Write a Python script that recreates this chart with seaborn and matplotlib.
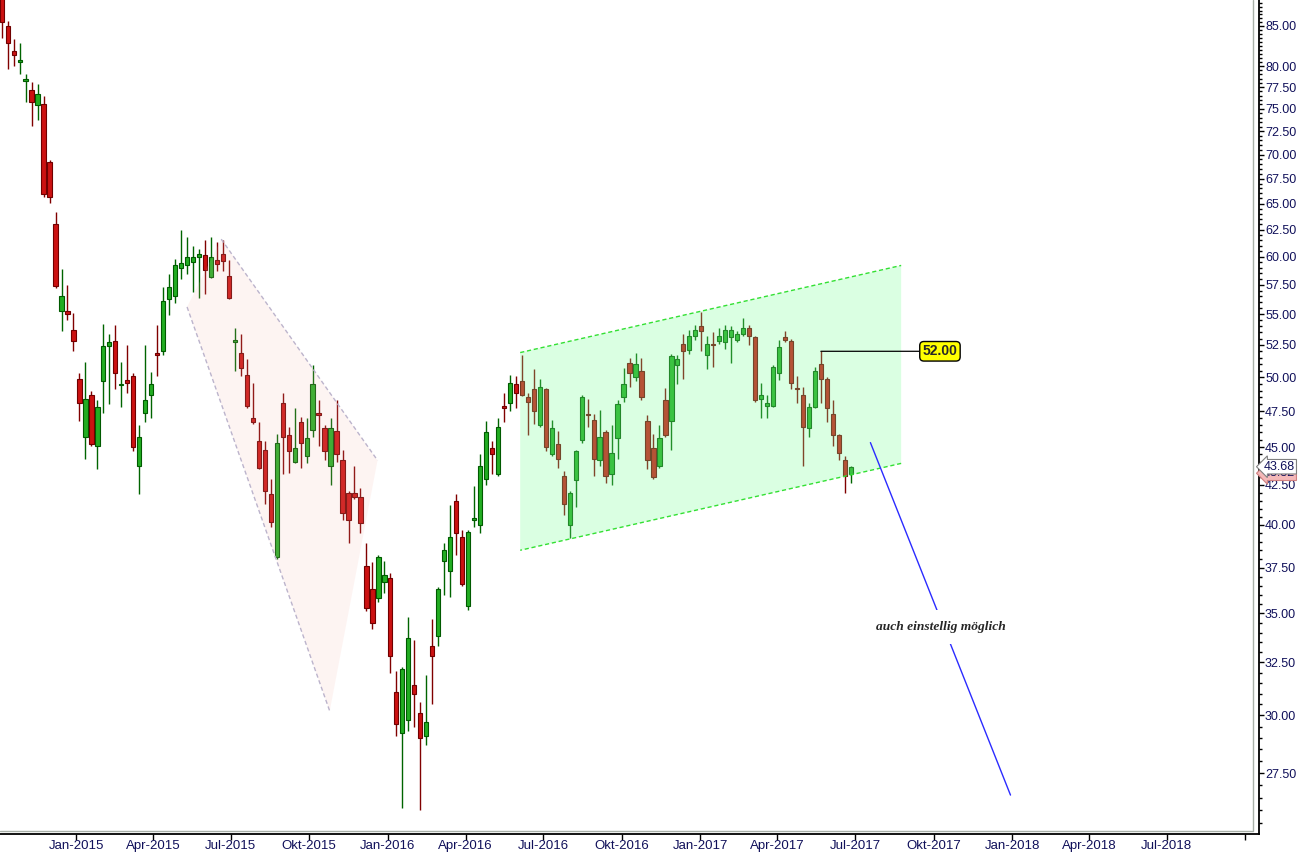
import pandas as pd
import numpy as np
import matplotlib
matplotlib.use('Agg')
import matplotlib.pyplot as plt
import matplotlib.ticker as mticker
import matplotlib.transforms as mtransforms
import seaborn as sns

# weekly candles, first week starting 2014-10-06
first_week = '2014-10-06'
open_ = [89.0, 85.0, 81.9, 80.5, 78.2, 77.2, 75.4, 75.6, 69.2, 63.0,
         55.3, 55.3, 53.7, 49.9, 45.7, 48.7, 45.1, 49.7, 52.4, 52.8,
         49.4, 49.8, 50.1, 43.7, 47.4, 48.7, 51.9, 52.0, 56.3, 56.5,
         59.0, 59.2, 59.5, 60.0, 60.1, 58.2, 59.7, 60.2, 58.3, 52.7,
         51.9, 50.2, 47.0, 45.4, 44.8, 41.9, 38.1, 48.1, 45.8, 44.0,
         46.7, 44.4, 46.2, 47.4, 46.3, 43.7, 46.1, 44.1, 42.0, 42.0,
         41.7, 37.6, 36.3, 35.8, 36.7, 36.9, 31.1, 29.2, 29.8, 31.4,
         30.1, 29.1, 33.3, 33.8, 37.9, 37.3, 41.5, 39.3, 35.4, 40.3,
         40.0, 42.9, 44.9, 43.2, 47.9, 48.1, 49.5, 49.7, 48.5, 49.1,
         46.5, 49.1, 44.5, 45.2, 43.1, 40.0, 42.8, 45.5, 47.3, 46.9,
         44.1, 46.0, 43.2, 45.6, 48.5, 51.1, 50.0, 50.5, 46.8, 44.9,
         43.7, 48.3, 46.8, 50.9, 52.6, 52.1, 53.2, 54.0, 51.7, 52.6,
         52.8, 52.7, 53.1, 52.9, 53.4, 53.9, 53.1, 48.4, 47.9, 47.9,
         50.3, 53.1, 52.8, 49.2, 48.7, 46.3, 47.8, 51.0, 49.9, 47.3,
         45.8, 44.1, 43.2]
high = [90.0, 85.6, 83.3, 82.9, 79.0, 78.1, 77.9, 76.5, 69.4, 64.2,
        58.9, 57.5, 55.1, 50.3, 51.2, 49.0, 48.3, 54.2, 53.4, 54.1,
        51.2, 52.5, 50.3, 46.5, 52.5, 50.4, 54.1, 57.3, 58.4, 59.8,
        62.5, 61.8, 61.0, 60.7, 61.5, 61.8, 61.3, 61.5, 59.7, 53.9,
        53.4, 51.4, 49.6, 46.7, 45.4, 42.9, 45.9, 48.8, 46.4, 47.7,
        47.1, 47.0, 50.9, 48.3, 46.5, 47.0, 48.3, 44.8, 42.1, 43.7,
        42.3, 38.9, 37.8, 38.2, 37.9, 37.2, 32.1, 32.3, 34.8, 33.6,
        30.6, 31.9, 34.7, 36.4, 38.9, 41.2, 41.9, 39.7, 39.7, 42.4,
        44.5, 46.8, 45.4, 47.0, 48.8, 50.2, 50.1, 51.7, 48.8, 50.6,
        49.9, 49.2, 46.9, 46.1, 43.4, 42.1, 44.8, 48.7, 48.4, 47.3,
        47.6, 46.2, 46.5, 48.3, 50.7, 51.5, 51.9, 51.5, 47.2, 45.9,
        46.5, 49.2, 51.8, 51.7, 53.4, 53.7, 54.1, 55.2, 53.2, 53.5,
        53.9, 54.1, 54.0, 53.6, 54.7, 54.1, 53.2, 49.6, 48.7, 50.9,
        52.9, 53.6, 53.0, 50.1, 49.3, 48.1, 50.8, 52.0, 50.0, 48.3,
        45.9, 44.4, 43.7]
low = [83.5, 79.7, 80.0, 79.0, 75.8, 73.1, 73.7, 65.6, 65.1, 57.2,
       53.6, 54.5, 52.0, 46.8, 44.2, 45.1, 43.5, 47.4, 48.0, 49.1,
       47.8, 48.8, 44.7, 41.9, 46.7, 47.0, 50.1, 51.7, 54.9, 55.9,
       58.0, 58.4, 56.9, 56.4, 56.7, 58.1, 58.7, 58.7, 56.3, 50.5,
       50.1, 47.7, 46.6, 43.5, 41.3, 39.9, 38.0, 43.2, 43.3, 43.9,
       43.6, 43.9, 45.7, 45.1, 44.1, 42.5, 44.0, 40.3, 38.9, 41.6,
       39.5, 35.1, 34.2, 35.6, 36.1, 32.0, 29.1, 26.1, 29.3, 29.5,
       26.0, 28.7, 30.5, 33.3, 36.0, 35.9, 38.2, 36.5, 35.2, 39.9,
       39.5, 42.5, 43.2, 43.1, 46.7, 47.5, 47.7, 48.6, 45.8, 46.6,
       46.4, 44.7, 44.4, 43.6, 40.6, 39.2, 41.1, 45.3, 46.4, 43.1,
       43.7, 42.6, 42.5, 44.2, 48.2, 49.3, 49.7, 48.3, 43.5, 42.9,
       43.6, 45.7, 44.8, 49.5, 49.9, 51.8, 52.9, 52.0, 50.6, 50.8,
       52.6, 52.2, 51.1, 52.7, 53.2, 52.5, 48.2, 47.0, 47.0, 47.8,
       49.8, 52.7, 49.1, 48.1, 43.7, 45.7, 47.7, 48.1, 46.7, 45.1,
       44.1, 42.0, 42.6]
close = [85.5, 82.9, 81.3, 80.8, 78.5, 75.8, 76.7, 65.9, 65.6, 57.4,
         56.5, 55.0, 52.8, 48.1, 48.4, 45.2, 47.8, 52.4, 52.7, 50.3,
         49.5, 49.6, 45.0, 45.7, 48.3, 49.5, 51.7, 56.1, 57.3, 59.2,
         59.4, 60.0, 60.0, 60.2, 58.8, 60.0, 59.3, 59.6, 56.4, 52.9,
         50.7, 47.9, 46.7, 43.6, 42.1, 40.2, 45.3, 45.7, 44.7, 44.9,
         45.3, 45.6, 49.5, 47.2, 44.7, 46.3, 44.5, 40.7, 40.3, 41.7,
         40.1, 35.3, 34.5, 38.1, 37.1, 32.8, 29.6, 32.2, 33.7, 31.0,
         29.0, 29.7, 32.8, 36.3, 38.5, 39.3, 39.5, 36.6, 39.6, 40.4,
         43.7, 46.0, 44.5, 46.4, 47.7, 49.6, 48.8, 48.7, 48.2, 47.5,
         49.3, 45.0, 46.3, 44.2, 41.3, 42.0, 44.7, 48.5, 47.2, 44.2,
         45.7, 43.1, 44.6, 48.0, 49.5, 50.3, 51.0, 48.5, 44.1, 43.0,
         45.6, 45.8, 51.6, 51.4, 52.0, 53.2, 53.7, 53.6, 52.6, 52.5,
         53.2, 53.7, 53.7, 53.4, 53.9, 53.2, 48.3, 48.7, 48.1, 50.8,
         52.3, 52.9, 49.6, 49.1, 46.4, 47.8, 50.5, 49.9, 47.7, 45.8,
         44.6, 43.1, 43.68]

# drawn channels
pink_dates = ['2015-05-11', '2015-06-20', '2015-12-20', '2015-10-25']
pink_prices = [55.6, 61.6, 44.1, 30.2]
green_dates = ['2016-06-04', '2017-08-24', '2017-08-24', '2016-06-04']
green_prices = [51.9, 59.2, 43.9, 38.5]
blue_dates = ['2017-07-19', '2017-12-30']
blue_prices = [45.3, 26.6]
note_date, note_price, note_text = '2017-10-09', 34.3, 'auch einstellig möglich'
mark_idx, mark_label, mark_text_date = 137, '52.00', '2017-09-18'
last_label, shadow_label = '43.68', '43.32'

tick_dates = pd.date_range('2015-01-01', '2018-10-01', freq='QS')
tick_labels = ['Jan-2015', 'Apr-2015', 'Jul-2015', 'Okt-2015', 'Jan-2016', 'Apr-2016',
               'Jul-2016', 'Okt-2016', 'Jan-2017', 'Apr-2017', 'Jul-2017', 'Okt-2017',
               'Jan-2018', 'Apr-2018', 'Jul-2018', '']
y_major = [27.5, 30, 32.5, 35, 37.5, 40, 42.5, 45, 47.5, 50, 52.5, 55, 57.5, 60,
           62.5, 65, 67.5, 70, 72.5, 75, 77.5, 80, 85]

df = pd.DataFrame({'open': open_, 'high': high, 'low': low, 'close': close})
df['date'] = pd.date_range(first_week, periods=len(df), freq='7D')
up = df['close'] >= df['open']

sns.set_theme(style='white')
plt.rcParams['font.family'] = ['Liberation Sans', 'DejaVu Sans']

fig = plt.figure(figsize=(12.98, 8.52), dpi=100)
ax = fig.add_axes([0.0, 0.0211, 0.970, 0.9789])

# candles
for mask, body, edge, wick in [(up, '#22ad22', '#005a00', '#006400'),
                               (~up, '#cc1111', '#700000', '#800000')]:
    d = df[mask]
    ax.vlines(d['date'], d['low'], d['high'], color=wick, lw=1.0, zorder=2)
    ax.bar(d['date'], d['close'] - d['open'], bottom=d['open'], width=pd.Timedelta(days=5),
           color=body, edgecolor=edge, linewidth=0.8, zorder=2)

# pink falling channel
pd_ = pd.to_datetime(pink_dates)
ax.fill(pd_, pink_prices, color='#f7b8ae', alpha=0.15, lw=0, zorder=3)
ax.plot([pd_[0], pd_[3]], [pink_prices[0], pink_prices[3]], ls=(0, (3, 2)), color='#bcb4cc', lw=1, zorder=3)
ax.plot([pd_[1], pd_[2]], [pink_prices[1], pink_prices[2]], ls=(0, (3, 2)), color='#bcb4cc', lw=1, zorder=3)

# green rising channel
gd = pd.to_datetime(green_dates)
ax.fill(gd, green_prices, color='#7dff98', alpha=0.28, lw=0, zorder=3)
ax.plot(gd[:2], green_prices[:2], ls=(0, (3, 2)), color='#33e033', lw=1, zorder=3)
ax.plot(gd[2:], green_prices[2:], ls=(0, (3, 2)), color='#33e033', lw=1, zorder=3)

# blue target line with note
ax.plot(pd.to_datetime(blue_dates), blue_prices, color='#2b2bff', lw=1, zorder=4)
ax.text(pd.Timestamp(note_date), note_price, note_text, family=['Liberation Serif', 'DejaVu Serif'],
        style='italic', weight='bold', fontsize=9.7, ha='center', va='center', zorder=5,
        bbox=dict(boxstyle='square,pad=0.8', fc='white', ec='none'))

# 52.00 marker
ax.annotate(mark_label, xy=(df['date'].iloc[mark_idx], df['high'].iloc[mark_idx]),
            xytext=(pd.Timestamp(mark_text_date), df['high'].iloc[mark_idx]),
            ha='left', va='center', fontsize=10, weight='bold', zorder=6,
            arrowprops=dict(arrowstyle='-', color='black', lw=0.9, shrinkA=0, shrinkB=0),
            bbox=dict(boxstyle='round,pad=0.2,rounding_size=0.3', fc='#ffff00', ec='black', lw=1))

# scales and axes
ax.set_yscale('log')
ax.set_ylim(25.08, 88.4)
ax.set_xlim(pd.Timestamp('2014-10-04'), pd.Timestamp('2018-10-17'))
ax.yaxis.tick_right()
ax.yaxis.set_major_locator(mticker.FixedLocator(y_major))
ax.yaxis.set_major_formatter(mticker.FuncFormatter(lambda v, p: f'{v:.2f}'))
ax.yaxis.set_minor_locator(mticker.FixedLocator(np.arange(25.5, 88.5, 0.5)))
ax.yaxis.set_minor_formatter(mticker.NullFormatter())
ax.set_xticks(tick_dates)
ax.set_xticklabels(tick_labels)
ax.tick_params(axis='y', which='major', direction='out', length=3.5, width=1, color='black',
               pad=0.8, labelsize=9, labelcolor='#10105a', right=True)
ax.tick_params(axis='y', which='minor', direction='out', length=2.5, width=1, color='black', right=True)
ax.tick_params(axis='x', which='major', direction='out', length=4, width=1, color='black',
               pad=0.5, labelsize=9.5, labelcolor='#10105a', bottom=True)
for side in ['left', 'top']:
    ax.spines[side].set_visible(False)
for side in ['right', 'bottom']:
    ax.spines[side].set_color('black')
    ax.spines[side].set_linewidth(1.3)
ax.set_xlabel('')
ax.set_ylabel('')

# inner grey frame
ax.plot([0, 0.9955, 0.9955], [0.004, 0.004, 1.0], transform=ax.transAxes, color='#a8b0a8',
        lw=1, clip_on=False, zorder=1)

# last price tags
tr = mtransforms.blended_transform_factory(ax.transAxes, ax.transData)
ax.text(1.004, 43.25, shadow_label, transform=tr, ha='left', va='center', fontsize=9,
        color='#10105a', zorder=6, clip_on=False,
        bbox=dict(boxstyle='larrow,pad=0.1', fc='#f4b8b8', ec='#d08080', lw=0.8))
ax.text(1.004, 43.68, last_label, transform=tr, ha='left', va='center', fontsize=9,
        color='#10105a', zorder=7, clip_on=False,
        bbox=dict(boxstyle='larrow,pad=0.1', fc='white', ec='#808080', lw=0.8))

fig.savefig('out.png', dpi=100)
